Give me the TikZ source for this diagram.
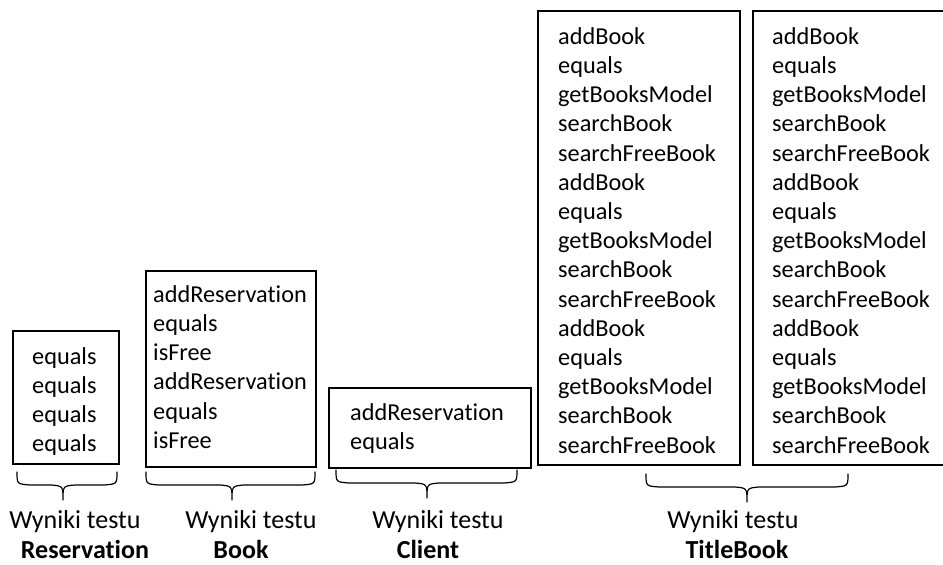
\documentclass[tikz,border=0pt]{standalone}
\usepackage{fontspec}
\setmainfont{Carlito}[Ligatures=NoCommon]
\begin{document}
\begin{tikzpicture}[x=1pt,y=-1pt,
  box/.style={draw, line width=1.6pt, inner sep=0pt, anchor=north west},
  lines/.style={anchor=north west, inner sep=0pt, align=left, font=\fontsize{24.3}{29.2}\selectfont},
  lbl/.style={anchor=base, inner sep=0pt, font=\fontsize{26}{30}\selectfont},
  blbl/.style={anchor=base, inner sep=0pt, font=\fontsize{26}{30}\selectfont\bfseries},
  brace/.style={line width=1.2pt, line cap=round, line join=round}]
\useasboundingbox (0,0) rectangle (943,565);
\clip (0,0) rectangle (943,565);
\newcommand{\strt}{\rule{0pt}{20pt}}
\newcommand{\mybrace}[4]{% x1, x2, xc, ytop ; tip = ytop+28
  \draw[brace] (#1,#4) .. controls (#1,#4+12) .. (#1+13,#4+13) -- (#3-12,#4+13)
    .. controls (#3,#4+14) .. (#3,#4+28) .. controls (#3,#4+14) .. (#3+12,#4+13)
    -- (#2-13,#4+13) .. controls (#2,#4+12) .. (#2,#4);}

% boxes
\node[box, minimum width=106pt, minimum height=133pt] (res) at (12,330) {};
\node[box, minimum width=170pt, minimum height=196pt] (book) at (145,270) {};
\node[box, minimum width=202pt, minimum height=80pt] (client) at (328,387) {};
\node[box, minimum width=202pt, minimum height=454pt] (tb1) at (537,10) {};
\node[box, minimum width=208pt, minimum height=454pt] (tb2) at (752,10) {};

% texts
\node[lines] (restext) at (32,344) {\strt equals\\equals\\equals\\equals};
\node[lines] (booktext) at (153,282) {\strt addReservation\\equals\\isFree\\addReservation\\equals\\isFree};
\node[lines] (clienttext) at (350,400) {\strt addReservation\\equals};
\node[lines] (tb1text) at (558,24) {\strt addBook\\equals\\getBooksModel\\searchBook\\searchFreeBook\\addBook\\equals\\getBooksModel\\searchBook\\searchFreeBook\\addBook\\equals\\getBooksModel\\searchBook\\searchFreeBook};
\node[lines] (tb2text) at (772,24) {\strt addBook\\equals\\getBooksModel\\searchBook\\searchFreeBook\\addBook\\equals\\getBooksModel\\searchBook\\searchFreeBook\\addBook\\equals\\getBooksModel\\searchBook\\searchFreeBook};

% braces
\mybrace{17}{117}{63}{472}
\mybrace{146}{315}{232}{472}
\mybrace{336}{517}{427}{470}
\mybrace{646}{848}{747}{474}

% labels
\node[lbl] (resw) at (75,528) {Wyniki testu};
\node[blbl] (resn) at (85,558) {Reservation};
\node[lbl] (bookw) at (251,528) {Wyniki testu};
\node[blbl] (bookn) at (241,558) {Book};
\node[lbl] (clientw) at (438,528) {Wyniki testu};
\node[blbl] (clientn) at (428,558) {Client};
\node[lbl] (tbw) at (733,528) {Wyniki testu};
\node[blbl] (tbn) at (737,558) {TitleBook};
\end{tikzpicture}
\end{document}
